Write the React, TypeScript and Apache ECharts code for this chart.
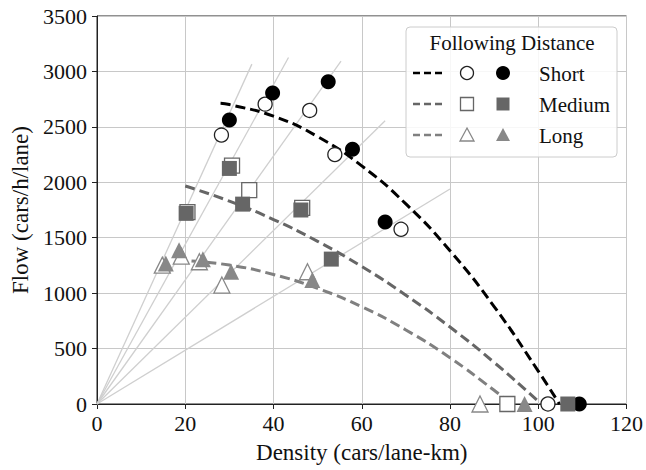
import React, { useEffect, useRef } from "react";
import * as echarts from "echarts";

// ---- data ----
const shortOpen: [number, number][] = [[28.2, 2426], [38.1, 2705], [48.2, 2648], [53.9, 2250], [68.9, 1576], [102.2, 0]];
const shortFilled: [number, number][] = [[30.0, 2561], [39.8, 2805], [52.4, 2906], [57.9, 2298], [65.3, 1641], [109.3, 0]];
const mediumOpen: [number, number][] = [[20.5, 1730], [30.6, 2150], [34.5, 1930], [46.5, 1770], [93.0, 0]];
const mediumFilled: [number, number][] = [[20.2, 1720], [30.0, 2125], [33.0, 1803], [46.2, 1750], [53.1, 1307], [106.7, 0]];
const longOpen: [number, number][] = [[14.8, 1253], [19.1, 1334], [23.2, 1283], [28.3, 1073], [47.7, 1193], [86.8, 0]];
const longFilled: [number, number][] = [[15.6, 1268], [18.6, 1388], [24.0, 1305], [30.4, 1193], [48.8, 1118], [96.9, 0]];

const shortCurve: [number, number][] = [[28, 2712], [30, 2701], [40, 2596], [50, 2412], [60, 2148], [70, 1805], [80, 1382], [90, 879], [100, 297], [104.8, 0]];
const mediumCurve: [number, number][] = [[20, 1966], [30, 1830], [40, 1664], [50, 1467], [60, 1240], [70, 982], [80, 694], [90, 375], [100, 26], [100.7, 0]];
const longCurve: [number, number][] = [[18, 1298], [20, 1294], [30, 1253], [40, 1168], [50, 1043], [60, 877], [70, 668], [80, 417], [90, 124], [93.9, 0]];

// reference speed rays from the origin (end points)
const rayEnds: [number, number][] = [[35.1, 3066], [43.4, 3126], [55.3, 3093], [65.3, 2555], [80.0, 1940]];

const groupNames = ["Short", "Medium", "Long"];
const legendTitle = "Following Distance";

const FONT = "Liberation Serif";

export default function App() {
  const ref = useRef<HTMLDivElement>(null);
  useEffect(() => {
    if (!ref.current) return;
    const chart = echarts.init(ref.current, undefined, { renderer: "svg" });

    const raySeries = rayEnds.map((e) => ({
      type: "line",
      data: [[0, 0], e],
      showSymbol: false,
      symbol: "none",
      lineStyle: { color: "#cfcfcf", width: 1.3 },
      silent: true,
      z: 2,
    }));

    const curve = (data: [number, number][], color: string) => ({
      type: "line",
      data,
      smooth: true,
      showSymbol: false,
      symbol: "none",
      lineStyle: { color, width: 3, type: [10, 5] },
      z: 3,
    });

    const scatter = (data: [number, number][], symbol: string, size: number, fill: string, stroke: string, z: number) => ({
      type: "scatter",
      data,
      symbol,
      symbolSize: size,
      itemStyle: { color: fill, borderColor: stroke, borderWidth: stroke === "none" ? 0 : 1.3, opacity: 1 },
      z,
    });

    // legend drawn as graphics
    const lx = 406, ly = 27, lw = 211, lh = 130;
    const rows = [73, 104, 135];
    const lineColors = ["#000", "#666", "#808080"];
    const gfx: any[] = [
      { type: "rect", shape: { x: lx, y: ly, width: lw, height: lh, r: 4 }, style: { fill: "rgba(255,255,255,0.85)", stroke: "#cccccc", lineWidth: 1 }, z: 100 },
      { type: "text", x: 512, y: 43, style: { text: legendTitle, fontFamily: FONT, fontSize: 21, fill: "#111", align: "center", verticalAlign: "middle" }, z: 101 },
    ];
    rows.forEach((ry, i) => {
      gfx.push({ type: "line", shape: { x1: 413, y1: ry, x2: 443, y2: ry }, style: { stroke: lineColors[i], lineWidth: 2.5, lineDash: [7, 4] }, z: 101 });
      const ox = 467, fx = 503;
      if (i === 0) {
        gfx.push({ type: "circle", shape: { cx: ox, cy: ry, r: 6.5 }, style: { fill: "#fff", stroke: "#222", lineWidth: 1.3 }, z: 101 });
        gfx.push({ type: "circle", shape: { cx: fx, cy: ry, r: 7 }, style: { fill: "#000" }, z: 101 });
      } else if (i === 1) {
        gfx.push({ type: "rect", shape: { x: ox - 6.5, y: ry - 6.5, width: 13, height: 13 }, style: { fill: "#fff", stroke: "#666", lineWidth: 1.3 }, z: 101 });
        gfx.push({ type: "rect", shape: { x: fx - 6.5, y: ry - 6.5, width: 13, height: 13 }, style: { fill: "#666" }, z: 101 });
      } else {
        gfx.push({ type: "polygon", shape: { points: [[ox, ry - 7], [ox + 7, ry + 6], [ox - 7, ry + 6]] }, style: { fill: "#fff", stroke: "#888", lineWidth: 1.3 }, z: 101 });
        gfx.push({ type: "polygon", shape: { points: [[fx, ry - 7], [fx + 7, ry + 6], [fx - 7, ry + 6]] }, style: { fill: "#888" }, z: 101 });
      }
      gfx.push({ type: "text", x: 539, y: ry + 1, style: { text: groupNames[i], fontFamily: FONT, fontSize: 21, fill: "#111", align: "left", verticalAlign: "middle" }, z: 101 });
    });

    const tickText = { fontFamily: FONT, fontSize: 22, color: "#111" };
    const nameText = { fontFamily: FONT, fontSize: 23, color: "#111" };
    const plain = (v: number) => String(v);

    chart.setOption({
      animation: false,
      backgroundColor: "#fff",
      textStyle: { fontFamily: FONT },
      grid: { left: 97, top: 16, width: 532, height: 388, show: true, borderColor: "#222", borderWidth: 1, backgroundColor: "transparent" },
      xAxis: {
        type: "value",
        min: 0,
        max: 120,
        interval: 20,
        name: "Density (cars/lane-km)",
        nameLocation: "middle",
        nameGap: 37,
        nameTextStyle: { ...nameText },
        axisLine: { show: true, lineStyle: { color: "#222", width: 1 } },
        axisTick: { show: true, length: 5, lineStyle: { color: "#222" } },
        axisLabel: { ...tickText, margin: 8, formatter: plain },
        splitLine: { show: true, lineStyle: { color: "#c8c8c8", width: 1 } },
      },
      yAxis: {
        type: "value",
        min: 0,
        max: 3500,
        interval: 500,
        name: "Flow (cars/h/lane)",
        nameLocation: "middle",
        nameGap: 62,
        nameTextStyle: { ...nameText },
        axisLine: { show: true, lineStyle: { color: "#222", width: 1 } },
        axisTick: { show: true, length: 5, lineStyle: { color: "#222" } },
        axisLabel: { ...tickText, margin: 10, formatter: plain },
        splitLine: { show: true, lineStyle: { color: "#c8c8c8", width: 1 } },
      },
      series: [
        ...raySeries,
        curve(shortCurve, "#000"),
        curve(mediumCurve, "#666"),
        curve(longCurve, "#808080"),
        scatter(shortOpen, "circle", 14, "#fff", "#222", 5),
        scatter(mediumOpen, "rect", 15, "#fff", "#666", 5),
        scatter(longOpen, "triangle", 16, "#fff", "#888", 5),
        scatter(shortFilled, "circle", 15, "#000", "none", 6),
        scatter(mediumFilled, "rect", 15, "#666", "none", 6),
        scatter(longFilled, "triangle", 16, "#888", "none", 6),
      ],
      graphic: gfx,
    });
    return () => chart.dispose();
  }, []);
  return <div ref={ref} style={{ position: "fixed", left: 0, top: 0, width: 646, height: 470 }} />;
}
